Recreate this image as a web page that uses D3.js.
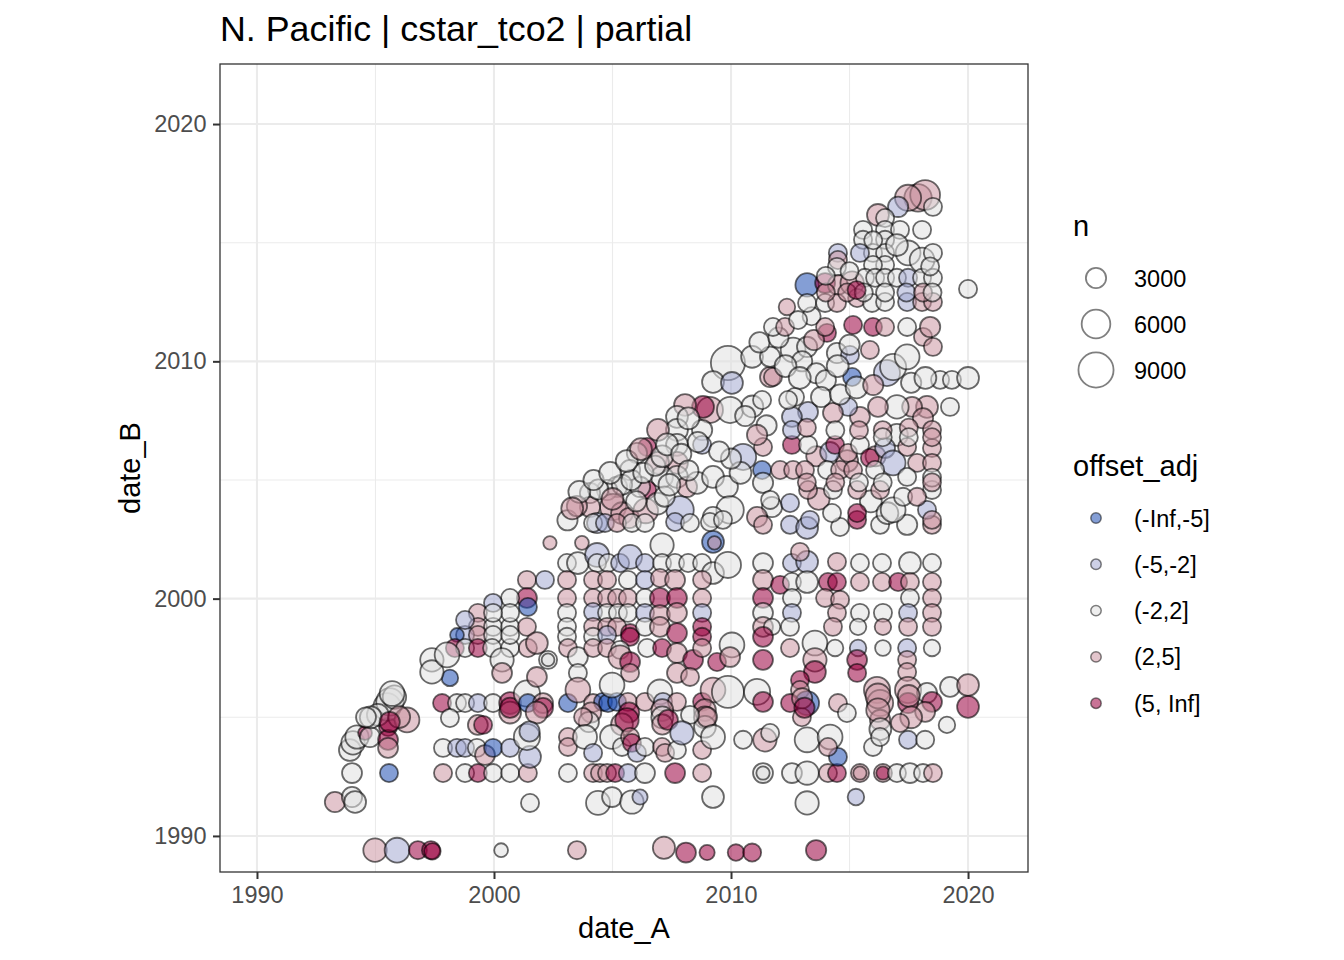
<!DOCTYPE html>
<html>
<head>
<meta charset="utf-8">
<script src="https://cdn.jsdelivr.net/npm/d3@7"></script>
<style>
  body { margin: 0; background: #fff; }
  text { font-family: "Liberation Sans", Arial, sans-serif; }
</style>
</head>
<body>
<div id="chart"></div>
<script>
// offset classes (legend order) and their fills
const offsetClasses = ["(-Inf,-5]", "(-5,-2]", "(-2,2]", "(2,5]", "(5, Inf]"];
const offsetFills = ["#1f4fb3", "#a4aad1", "#e0e0e0", "#cc96a2", "#9b0040"];

const xTicks = [1990, 2000, 2010, 2020];
const yTicks = [1990, 2000, 2010, 2020];
const minorTicks = [1995, 2005, 2015];
const sizeBreaks = [3000, 6000, 9000];

// [date_A, date_B, n, offset class index]
const points = [
  // bottom row
  [1994.98,1989.4,4000,3],[1995.91,1989.4,4500,1],[1996.79,1989.4,2400,4],[1997.34,1989.4,2400,4],[1997.4,1989.35,2000,4],
  [2000.30,1989.4,1400,2],[2003.50,1989.4,2400,3],[2007.17,1989.5,3600,3],[2008.10,1989.3,2900,4],[2008.99,1989.3,1700,4],
  [2010.21,1989.3,2000,4],[2010.89,1989.3,2400,4],[2013.59,1989.4,3000,4],
  // 1991
  [1993.29,1991.43,3000,3],[1994.01,1991.64,3000,2],[1994.14,1991.43,3500,2],[2001.52,1991.39,2400,2],[2004.39,1991.39,4200,2],
  [2004.98,1991.64,2900,2],[2005.82,1991.43,4000,2],[2006.16,1991.64,1700,1],[2009.24,1991.64,3500,2],[2013.21,1991.39,4000,2],
  [2015.27,1991.64,2000,1],
  // 1992.6
  [1994.01,1992.65,2900,2],[1995.57,1992.65,2400,0],[1997.85,1992.65,2400,3],[1998.78,1992.65,2400,2],[1999.32,1992.65,2400,4],
  [1999.96,1992.65,2400,2],[2000.68,1992.65,2400,2],[2001.43,1992.65,2400,3],[2003.12,1992.65,2400,2],[2004.18,1992.65,2400,3],
  [2004.47,1992.65,2400,3],[2004.77,1992.65,2400,3],[2005.11,1992.65,2400,4],[2005.65,1992.65,2400,1],[2006.37,1992.65,2900,2],
  [2007.64,1992.65,2900,4],[2008.78,1992.65,2400,3],[2011.35,1992.65,2900,2],[2011.35,1992.65,1300,2],[2012.57,1992.65,2900,2],
  [2013.21,1992.65,4000,2],[2014.09,1992.65,2400,3],[2014.47,1992.65,2400,4],[2015.44,1992.65,2400,3],[2015.44,1992.65,1300,3],
  [2016.41,1992.65,2400,3],[2016.41,1992.65,1300,4],[2017.0,1992.65,2400,2],[2017.55,1992.65,2900,2],[2018.1,1992.65,2400,2],
  [2018.52,1992.65,2400,3],
  // 1993-1996 left
  [1997.85,1993.71,2400,2],[1998.44,1993.71,2400,1],[1998.78,1993.71,2400,1],[1999.28,1993.71,2400,2],[1999.62,1993.41,2900,3],
  [1999.96,1993.71,2400,0],[2000.68,1993.71,2400,1],[2001.52,1993.33,3500,1],
  [1993.92,1993.62,3500,2],[1994.05,1993.92,4000,2],[1994.22,1994.17,4000,2],[1994.56,1994.34,1400,4],[1994.77,1994.17,3000,2],
  [1995.53,1994.59,2400,4],[1995.53,1994.05,2900,4],[1995.53,1993.71,2900,3],[1995.49,1995.44,5500,2],[1995.61,1995.65,5500,2],
  [1995.8,1995.85,4000,2],[1995.1,1995.1,3500,2],[1994.8,1995.0,3500,2],[1994.6,1995.0,2900,2],[1996.33,1994.89,4500,3],
  [1996.0,1995.01,3500,3],[1995.6,1994.8,3000,4],[1995.7,1996.0,4500,2],
  [1997.81,1995.6,2400,4],[1998.44,1995.6,2400,2],[1998.78,1995.6,2400,2],[1999.32,1995.6,2400,1],[1999.96,1995.6,2400,2],
  [2000.68,1995.6,3500,4],[2000.68,1995.2,3500,3],[2000.68,1995.4,3000,4],[2001.39,1996.0,5000,2],[2001.43,1995.6,2400,0],
  [2002.07,1995.6,2900,3],[2002.07,1995.4,2900,4],[2001.8,1995.2,3500,3],
  [1998.14,1994.97,2400,2],[1999.32,1994.68,2900,3],[1999.54,1994.68,2400,4],[2001.39,1994.17,5000,2],[2001.5,1994.4,3000,1],
  // left diagonal edge
  [2002.36,2002.35,1300,3],[2001.39,2000.79,2400,3],[2002.15,2000.79,2400,1],[2001.39,2000.03,2900,4],[2001.43,1999.65,2400,0],
  [2000.68,2000.03,2400,2],[1999.96,1999.82,2400,1],[1999.32,1999.4,2400,3],[1999.32,1998.81,2400,3],[1999.96,1998.81,2400,2],
  [2000.68,1998.81,2400,2],[2001.39,1998.81,2400,3],[1998.78,1998.47,2400,1],[1998.44,1998.47,1400,0],[1999.32,1998.47,2400,3],
  [1999.96,1998.47,2400,2],[1998.35,1997.92,2400,4],[1998.78,1997.92,2400,2],[1999.32,1997.92,2400,4],[1999.92,1997.92,2400,2],
  [2000.68,1997.92,2400,2],[2001.43,1997.92,2400,3],[2001.81,1998.13,3500,3],[2000.34,1997.42,4000,2],[2000.34,1996.87,2900,3],
  [1998.14,1996.66,2000,0],[1997.38,1997.42,4000,2],[1997.38,1996.91,4000,2],[1998.02,1997.63,4500,2],[2002.28,1997.42,2400,2],
  [2002.28,1997.42,1200,2],[2001.81,1996.7,2900,3],[2000.68,1998.47,2400,2],[2000.68,1999.40,2400,2],[1999.96,1999.40,2400,2],
  [1998.78,1999.1,2400,1],
  // 2003-2012 columns
  [2003.71,2002.35,1400,3],[2009.24,2002.39,3500,0],[2009.3,2002.35,1300,3],
  [2003.08,2001.5,2400,2],[2003.54,2001.5,3500,2],[2004.35,2001.84,4200,1],[2004.35,2001.5,2400,2],[2004.81,2001.5,2400,2],
  [2005.32,2001.5,2400,1],[2005.74,2001.76,4200,1],[2006.37,2001.5,2400,1],[2007.09,2002.26,4000,2],[2007.09,2001.5,2400,2],
  [2007.64,2001.5,2400,2],[2008.19,2001.5,2400,2],[2008.78,2001.5,2400,2],[2009.24,2001.08,3500,2],[2009.87,2001.42,5000,2],
  [2011.35,2001.5,2900,2],
  [2003.08,2000.79,2400,3],[2004.18,2000.79,2400,3],[2004.77,2000.79,2400,3],[2005.65,2000.79,2400,2],[2006.37,2000.79,2400,1],
  [2007.0,2000.87,2400,3],[2007.64,2000.79,2900,3],[2008.78,2000.79,2400,3],[2011.35,2000.79,2900,3],
  [2003.08,2000.03,2400,3],[2004.18,2000.03,2400,3],[2004.77,2000.03,2400,3],[2005.19,2000.03,2400,3],[2005.65,2000.03,2400,3],
  [2006.37,2000.03,2400,2],[2007.0,2000.03,2900,4],[2007.72,2000.03,2900,4],[2008.78,2000.03,2400,3],[2011.35,2000.03,2900,4],
  [2003.08,1999.4,2400,2],[2004.18,1999.44,2400,1],[2004.77,1999.4,2400,2],[2005.23,1999.4,2400,2],[2005.65,1999.4,2400,2],
  [2006.37,1999.4,2400,1],[2007.0,1999.31,2900,3],[2007.72,1999.4,2900,3],[2008.78,1999.4,2400,1],[2011.35,1999.4,2900,2],
  [2003.08,1998.81,2400,2],[2004.18,1998.81,2400,3],[2004.77,1998.81,2400,3],[2005.19,1998.81,2400,3],[2005.74,1998.55,2400,4],
  [2006.37,1998.81,2400,2],[2007.0,1998.81,2900,3],[2007.72,1998.55,2900,4],[2008.78,1998.81,2400,4],[2011.35,1998.81,2900,3],
  [2011.73,1998.81,2000,2],
  [2003.08,1998.39,2400,2],[2004.18,1998.39,2400,2],[2004.77,1998.47,2400,1],[2005.74,1998.39,2400,4],[2008.78,1998.39,2400,4],
  [2011.35,1998.39,2900,4],
  [2003.12,1997.92,2400,3],[2003.54,1997.54,2900,2],[2004.18,1997.92,2400,3],[2004.77,1997.92,2400,3],[2005.32,1997.84,2400,2],
  [2005.32,1997.54,4000,3],[2005.74,1997.33,2900,4],[2006.46,1997.92,2400,2],[2007.09,1997.92,2400,4],[2007.72,1997.71,2900,3],
  [2008.4,1997.42,2900,4],[2008.78,1997.92,2400,3],[2009.41,1997.33,2400,4],[2010.04,1998.05,4500,2],[2009.96,1997.54,2900,3],
  [2011.35,1997.42,2900,4],
  [2003.54,1996.87,2400,2],[2005.74,1996.87,2400,3],[2007.72,1996.87,2900,3],[2008.27,1996.7,2400,3],
  [2003.12,1995.6,2400,0],[2003.54,1996.15,4500,3],[2004.18,1995.6,2400,3],[2004.6,1995.65,2400,0],[2004.81,1995.6,2400,0],
  [2005.19,1995.65,2400,0],[2005.65,1995.65,2400,3],[2004.98,1996.36,4500,2],[2006.37,1995.65,2400,3],[2007.0,1996.07,4500,2],
  [2007.13,1995.65,2400,1],[2007.72,1995.65,2400,3],[2008.78,1995.65,2400,4],[2009.24,1996.15,4500,3],[2009.87,1996.07,7500,2],
  [2011.1,1996.07,5000,2],[2011.35,1995.65,2900,4],
  [2007.1,1995.3,3500,3],[2007.1,1995.0,3500,2],[2007.1,1994.7,3000,3],[2008.9,1995.3,3500,3],[2008.9,1995.0,3500,3],
  [2008.9,1994.6,3500,2],[2005.7,1995.2,3000,4],[2005.4,1994.7,3500,3],[2004.1,1995.2,3000,3],[2004.0,1994.8,3000,2],
  [2003.76,1995.01,2400,3],[2005.61,1994.89,4000,4],[2007.34,1994.89,2900,4],[2008.99,1995.01,2900,3],[2008.27,1995.1,2400,2],
  [2003.12,1994.17,2400,3],[2003.12,1993.75,2400,3],[2003.84,1994.17,4200,2],[2004.18,1993.5,2400,1],[2004.98,1994.17,4200,2],
  [2005.4,1993.75,2400,2],[2005.74,1994.17,2400,3],[2005.82,1993.92,2400,4],[2006.03,1993.5,2400,1],[2006.37,1993.75,2400,2],
  [2007.09,1993.75,2400,3],[2007.22,1993.5,2400,3],[2007.72,1993.62,2400,2],[2007.93,1994.34,4000,1],[2008.78,1993.62,2400,3],
  [2009.24,1994.17,4200,2],[2010.51,1994.05,2400,2],[2011.43,1994.05,4000,3],[2011.65,1994.34,2400,2],
  // 2012-2020 columns, lower half
  [2012.49,2003.11,2400,1],[2013.21,2002.98,3500,1],[2014.6,2003.02,2400,2],[2015.32,2003.32,2400,4],[2016.29,2003.11,2400,2],
  [2017.43,2003.11,3000,2],[2018.48,2003.11,2400,3],
  [2012.57,2001.5,2400,1],[2013.21,2001.55,3500,1],[2012.91,2001.97,2400,3],[2014.47,2001.55,2400,3],[2015.44,2001.5,2400,2],
  [2016.37,2001.5,2400,2],[2017.55,2001.5,3500,2],[2018.48,2001.5,2400,2],
  [2012.07,2000.58,2400,4],[2012.57,2000.70,2400,2],[2013.21,2000.70,3500,2],[2014.09,2000.70,2400,4],[2014.47,2000.70,2400,4],
  [2015.44,2000.70,2400,3],[2016.37,2000.70,2400,3],[2017.05,2000.70,2400,4],[2017.55,2000.70,2400,3],[2018.48,2000.70,2400,3],
  [2012.57,2000.03,2400,2],[2013.97,2000.03,2400,3],[2014.6,1999.95,2400,3],[2017.55,2000.03,2400,2],[2018.48,2000.03,2400,3],
  [2012.57,1999.4,2400,1],[2014.47,1999.4,2400,3],[2015.44,1999.4,2400,2],[2016.41,1999.4,2400,2],[2017.47,1999.4,2400,1],
  [2018.48,1999.4,2400,3],
  [2012.49,1998.81,2400,2],[2014.30,1998.81,2400,3],[2015.36,1998.81,2000,2],[2016.41,1998.81,2000,3],[2017.47,1998.81,2400,3],
  [2018.48,1998.81,2400,3],
  [2012.49,1997.92,2400,3],[2013.54,1998.13,4500,2],[2014.39,1997.92,2000,2],[2015.36,1997.92,2000,1],[2016.41,1997.92,1800,2],
  [2017.43,1997.92,2400,1],[2018.48,1997.92,2000,2],
  [2015.32,1997.42,2900,4],[2015.32,1996.87,2400,4],[2013.54,1997.42,4000,3],[2013.54,1996.91,3500,4],[2017.43,1997.42,2400,3],
  [2017.43,1996.91,2400,3],
  [2012.91,1996.57,2400,4],[2012.91,1996.15,2400,3],[2013.21,1995.6,4200,0],[2012.49,1995.6,2400,4],[2012.99,1995.0,2400,3],
  [2014.51,1995.6,2400,3],[2014.89,1995.18,2400,2],[2016.16,1996.15,5000,3],[2016.29,1995.6,5000,3],[2016.29,1994.89,3000,3],
  [2017.47,1996.15,5000,3],[2017.47,1995.6,3000,4],[2018.27,1996.03,2900,2],[2018.48,1995.65,2900,4],[2018.19,1995.23,2900,3],
  [2019.24,1996.28,2900,2],[2020.0,1996.36,3500,3],[2020.0,1995.44,3500,4],[2019.11,1994.68,2000,2],
  [2016.2,1995.9,4500,3],[2016.2,1995.3,4000,3],[2016.3,1994.5,3500,2],[2017.5,1995.9,3500,3],[2017.6,1995.0,3500,3],
  [2013.0,1995.8,3000,3],[2013.1,1995.4,3000,4],
  [2013.21,1994.05,4500,2],[2014.18,1994.17,4500,2],[2014.51,1993.33,2400,0],[2014.09,1993.75,2400,3],[2015.99,1993.75,2400,2],
  [2016.29,1994.17,2400,2],[2017.47,1994.05,2400,1],[2018.19,1994.05,2400,2],[2017.13,1994.76,2400,3],
  // middle diagonal cluster
  [2009.87,2009.93,8500,2],[2009.24,2009.13,3500,2],[2010.04,2009.09,3500,1],[2010.89,2010.19,3500,2],[2011.65,2009.34,3000,3],
  [2009.11,2007.95,5000,3],[2009.96,2007.95,5000,2],[2008.82,2008.08,3500,4],[2008.06,2008.16,3500,3],[2007.72,2007.66,3500,2],
  [2008.78,2007.11,3000,2],[2008.78,2006.48,2400,1],[2007.72,2007.11,3500,2],[2007.72,2006.48,3500,2],[2007.72,2005.72,3500,3],
  [2006.92,2007.11,3500,3],[2006.46,2006.39,2400,4],[2006.03,2006.14,3000,2],[2005.74,2005.42,3000,2],[2006.92,2005.72,3500,3],
  [2007.09,2005.13,3500,2],[2007.72,2005.13,3500,2],[2008.14,2004.71,3000,3],[2006.46,2004.58,2400,4],[2006.16,2004.71,3000,2],
  [2005.19,2004.71,3000,2],[2004.77,2004.58,3000,2],[2004.05,2004.45,3000,2],[2005.02,2003.86,5000,3],[2004.05,2003.86,3000,3],
  [2004.35,2003.19,3000,1],[2007.85,2003.74,5500,1],[2008.57,2004.88,3500,2],[2009.24,2005.13,3500,2],[2009.83,2004.71,3500,2],
  [2009.96,2003.74,5500,2],[2010.51,2005.97,5000,1],[2011.31,2005.42,2400,0],[2011.35,2006.39,2400,3],[2011.35,2004.88,3000,2],
  [2011.73,2003.86,3000,2],[2011.1,2003.44,3000,3],[2009.24,2003.44,3000,2],
  [2003.1,2003.3,3000,2],[2003.5,2003.9,3000,3],[2004.4,2004.6,3000,2],[2005.4,2004.8,3000,2],[2005.8,2005.0,3000,2],
  [2006.3,2005.3,3000,2],[2006.8,2005.6,3000,2],[2005.4,2003.6,3500,3],[2005.7,2003.4,3000,3],[2006.4,2003.7,4500,3],
  [2006.9,2004.0,3500,2],[2007.2,2004.3,3000,2],[2007.1,2006.0,3500,2],[2007.3,2006.5,3500,2],[2007.9,2006.1,3000,2],
  [2008.2,2005.4,3000,2],[2008.6,2006.6,3000,2],[2008.2,2007.6,3500,2],[2007.4,2004.8,3500,2],
  [2003.6,2004.5,3500,2],[2004.2,2005.0,3000,2],[2004.9,2005.3,3500,2],[2005.6,2005.8,3500,2],[2006.2,2006.3,3500,3],
  [2005.0,2004.2,3500,3],[2006.0,2004.1,3000,2],[2003.3,2003.8,3500,3],
  [2004.18,2003.19,2400,2],[2004.68,2003.19,2400,1],[2005.19,2003.19,2400,3],[2005.82,2003.19,2400,2],[2006.37,2003.19,2400,2],
  [2007.64,2003.23,2400,1],[2008.27,2003.19,2400,2],[2009.11,2003.23,2400,2],[2009.66,2003.32,2400,2],[2011.35,2003.11,2400,3],
  [2010.9,2008.1,3500,2],[2011.5,2007.3,3000,2],[2010.6,2007.7,3000,2],[2011.1,2006.9,3000,3],[2010.4,2005.3,3500,2],
  [2010.0,2005.9,3000,2],[2009.5,2006.2,3000,2],
  // upper right block
  [2011.65,2010.19,3000,2],[2012.62,2010.48,4500,2],[2013.21,2010.61,3000,2],[2014.05,2011.2,2400,4],[2015.11,2009.34,2400,0],
  [2014.47,2010.35,3000,2],[2015.02,2010.27,2400,1],[2015.86,2010.48,2400,3],[2016.58,2009.51,5000,1],[2016.84,2009.76,5000,2],
  [2017.43,2010.19,4500,2],[2018.10,2011.03,2400,3],[2018.52,2010.61,2400,3],[2018.82,2009.22,2400,2],[2019.32,2009.22,2400,2],
  [2020.0,2009.30,3500,2],[2019.24,2008.08,2400,2],[2018.27,2008.08,3500,3],[2017.64,2008.08,2900,3],[2017.0,2008.08,4000,2],
  [2016.2,2008.08,2900,3],[2015.44,2007.66,2900,3],[2014.94,2008.08,2400,1],[2014.3,2007.83,2900,3],[2013.25,2007.87,2900,1],
  [2012.57,2007.66,2900,1],[2012.70,2008.50,2400,2],[2012.41,2008.37,2400,2],[2011.77,2009.34,2400,3],[2011.31,2008.37,2400,2],
  [2013.0,2010.0,3000,2],[2013.6,2009.5,3000,2],[2014.0,2009.2,3000,2],[2014.5,2009.8,3500,2],[2015.0,2010.7,3000,2],
  [2012.3,2009.8,3500,2],[2013.5,2010.9,3000,3],
  [2011.2,2010.8,3000,2],[2012.0,2011.0,3000,2],[2012.9,2009.3,3500,2],[2013.4,2011.9,2400,2],
  [2013.8,2008.5,3000,2],[2014.6,2008.6,3000,2],[2015.3,2008.9,3500,2],[2016.0,2009.0,3000,3],[2017.6,2009.1,3000,2],
  [2018.2,2009.3,3500,2],[2013.6,2006.0,3000,3],[2014.9,2005.8,3500,3],[2016.1,2006.0,3000,3],[2017.0,2006.9,3500,2],
  [2018.1,2007.6,3000,3],[2013.7,2004.2,3500,3],[2015.9,2004.1,3500,2],[2016.6,2003.6,3500,2],
  [2012.57,2006.48,2400,4],[2012.57,2007.11,2400,1],[2013.25,2006.48,2400,2],[2014.18,2006.18,2900,1],[2014.39,2006.48,2400,4],
  [2014.94,2006.14,2400,3],[2015.44,2006.48,2400,2],[2015.86,2005.93,2400,4],[2016.5,2006.35,2900,1],[2016.84,2005.72,4500,1],
  [2017.43,2006.39,2400,3],[2017.85,2005.72,2400,3],[2018.48,2006.35,2400,3],[2018.48,2005.72,2400,3],
  [2012.07,2005.42,2400,3],[2012.62,2005.42,2400,3],[2013.12,2005.42,2400,3],[2014.05,2005.42,2400,2],[2014.6,2005.42,2400,3],
  [2015.15,2005.42,2400,3],[2016.08,2005.42,2400,2],[2017.43,2005.13,2400,2],
  [2011.65,2004.16,2400,2],[2012.49,2004.03,2400,1],[2013.25,2004.58,2400,3],[2014.30,2004.58,2400,2],[2015.32,2004.58,2400,3],
  [2015.32,2003.61,2400,4],[2014.26,2003.61,2400,2],[2013.33,2003.32,2400,1],[2016.29,2004.58,2400,3],[2016.84,2003.74,4500,2],
  [2018.27,2003.74,2400,1],[2018.48,2004.58,2400,2],[2018.48,2003.32,2400,3],[2017.26,2004.29,2400,2],[2017.85,2004.29,2400,3],
  [2018.48,2007.11,2400,3],[2018.48,2006.8,2400,3],[2018.48,2005.1,2400,2],[2018.48,2004.9,2400,3],[2017.5,2007.2,2400,3],
  [2017.5,2006.8,2400,2],[2016.4,2007.1,2400,3],[2016.4,2006.8,2400,2],[2015.4,2007.1,2400,3],[2014.4,2007.1,2400,2],
  [2013.2,2007.2,2400,3],[2016.4,2004.9,2400,2],[2015.4,2004.9,2400,2],[2014.4,2004.9,2400,3],[2013.2,2004.9,2400,3],
  // top of triangle
  [2017.89,2016.89,5500,3],[2018.19,2017.01,6500,3],[2017.47,2016.89,5000,3],[2017.05,2016.51,3000,1],[2018.52,2016.51,2400,2],
  [2016.2,2016.17,3500,3],[2016.5,2016.04,2400,2],[2016.5,2015.54,2400,2],[2017.13,2015.54,2400,2],[2018.06,2015.54,2400,2],
  [2015.57,2015.54,2400,2],[2015.57,2015.12,2400,2],[2016.5,2015.12,2400,2],[2017.47,2014.57,4500,2],[2018.06,2014.27,4500,2],
  [2018.52,2014.57,2400,2],[2015.99,2014.57,2400,2],[2015.44,2014.57,2400,1],[2014.51,2014.57,2400,1],[2016.5,2014.57,2400,2],
  [2014.51,2014.27,2400,3],[2014.47,2013.98,2400,2],[2016.5,2014.06,2400,2],[2015.99,2014.06,2400,2],[2013.21,2013.22,4000,0],
  [2013.97,2013.30,2900,4],[2014.51,2013.22,2900,3],[2015.11,2013.30,4000,3],[2015.65,2013.52,2400,2],[2016.08,2013.52,2400,2],
  [2016.5,2013.52,2400,2],[2017.0,2013.52,2400,2],[2017.47,2013.52,2400,1],[2018.06,2013.52,2400,2],[2018.52,2013.52,2400,2],
  [2020.0,2013.05,2400,2],[2012.36,2012.29,2000,3],[2013.21,2012.46,2400,2],[2013.97,2012.46,2400,2],[2014.47,2012.46,2400,3],
  [2015.32,2012.67,2400,3],[2015.95,2012.46,2400,2],[2016.5,2012.50,2400,2],[2017.43,2012.50,2400,1],[2018.06,2012.50,2400,3],
  [2018.52,2012.50,2400,3],[2011.77,2011.45,2400,2],[2012.28,2011.45,2400,3],[2012.83,2011.74,2400,2],[2013.97,2011.45,2400,3],
  [2015.15,2011.53,2400,4],[2015.99,2011.45,2400,4],[2016.5,2011.45,2400,3],[2017.43,2011.45,2400,2],[2018.40,2011.45,3000,3],
  [2014.0,2012.9,2400,3],[2014.9,2012.9,2400,3],[2015.6,2012.9,2400,2],[2016.5,2012.9,2400,2],[2017.4,2012.9,2400,1],
  [2018.1,2012.9,2400,3],[2018.5,2012.9,2400,2],[2015.3,2013.0,2400,4],[2014.0,2013.6,2400,2],[2015.0,2013.8,2400,2],
  [2016.0,2015.1,2400,2],[2017.0,2014.9,3500,2],[2018.4,2014.0,2400,2]
];

const W = 1344, H = 960;
const panel = { left: 220, right: 1028, top: 64, bottom: 872 };

const x = d3.scaleLinear().domain([1988.44, 2022.53]).range([panel.left, panel.right]);
const y = d3.scaleLinear().domain([1988.48, 2022.53]).range([panel.bottom, panel.top]);
const r = d3.scaleSqrt().domain([0, 10000]).range([0, 18.5]);
const fill = d3.scaleOrdinal().domain(d3.range(offsetClasses.length)).range(offsetFills);

const svg = d3.select("#chart").append("svg")
  .attr("width", W).attr("height", H);

// panel grid
const grid = svg.append("g");
grid.selectAll(".minx").data(minorTicks).join("line")
  .attr("x1", d => x(d)).attr("x2", d => x(d))
  .attr("y1", panel.top).attr("y2", panel.bottom)
  .attr("stroke", "#ebebeb").attr("stroke-width", 1.1);
grid.selectAll(".miny").data(minorTicks).join("line")
  .attr("y1", d => y(d)).attr("y2", d => y(d))
  .attr("x1", panel.left).attr("x2", panel.right)
  .attr("stroke", "#ebebeb").attr("stroke-width", 1.1);
grid.selectAll(".majx").data(xTicks).join("line")
  .attr("x1", d => x(d)).attr("x2", d => x(d))
  .attr("y1", panel.top).attr("y2", panel.bottom)
  .attr("stroke", "#ebebeb").attr("stroke-width", 2.1);
grid.selectAll(".majy").data(yTicks).join("line")
  .attr("y1", d => y(d)).attr("y2", d => y(d))
  .attr("x1", panel.left).attr("x2", panel.right)
  .attr("stroke", "#ebebeb").attr("stroke-width", 2.1);

svg.append("clipPath").attr("id", "clip").append("rect")
  .attr("x", panel.left).attr("y", panel.top)
  .attr("width", panel.right - panel.left).attr("height", panel.bottom - panel.top);

// points
svg.append("g")
  .attr("clip-path", "url(#clip)")
  .selectAll("circle").data(points).join("circle")
  .attr("cx", d => x(d[0]))
  .attr("cy", d => y(d[1]))
  .attr("r", d => r(d[2]))
  .attr("fill", d => fill(d[3]))
  .attr("fill-opacity", 0.55)
  .attr("stroke", "#000")
  .attr("stroke-opacity", 0.58)
  .attr("stroke-width", 1.8);

// panel border
svg.append("rect")
  .attr("x", panel.left).attr("y", panel.top)
  .attr("width", panel.right - panel.left).attr("height", panel.bottom - panel.top)
  .attr("fill", "none").attr("stroke", "#333").attr("stroke-width", 1.3);

// axes
const xAxis = svg.append("g")
  .attr("transform", `translate(0,${panel.bottom})`)
  .call(d3.axisBottom(x).tickValues(xTicks).tickFormat(d3.format("d")).tickSize(7).tickPadding(7));
const yAxis = svg.append("g")
  .attr("transform", `translate(${panel.left},0)`)
  .call(d3.axisLeft(y).tickValues(yTicks).tickFormat(d3.format("d")).tickSize(7).tickPadding(6.5));
[xAxis, yAxis].forEach(a => {
  a.select(".domain").remove();
  a.selectAll(".tick line").attr("stroke", "#333").attr("stroke-width", 2);
  a.selectAll(".tick text")
    .attr("fill", "#4d4d4d")
    .style("font-size", "23.5px")
    .style("font-family", '"Liberation Sans", Arial, sans-serif');
});

// titles
svg.append("text")
  .attr("x", panel.left).attr("y", 41)
  .style("font-size", "35.8px").attr("fill", "#000")
  .text("N. Pacific | cstar_tco2 | partial");
svg.append("text")
  .attr("x", (panel.left + panel.right) / 2).attr("y", 938)
  .attr("text-anchor", "middle")
  .style("font-size", "29px")
  .text("date_A");
svg.append("text")
  .attr("transform", `translate(140,${(panel.top + panel.bottom) / 2}) rotate(-90)`)
  .attr("text-anchor", "middle")
  .style("font-size", "29px")
  .text("date_B");

// size legend
const legN = svg.append("g");
legN.append("text").attr("x", 1073).attr("y", 236)
  .style("font-size", "29px").text("n");
sizeBreaks.forEach((b, i) => {
  const cy = 278 + i * 46;
  legN.append("circle")
    .attr("cx", 1096).attr("cy", cy).attr("r", r(b))
    .attr("fill", "none").attr("stroke", "#000")
    .attr("stroke-opacity", 0.5).attr("stroke-width", 1.8);
  legN.append("text").attr("x", 1134).attr("y", cy + 8.5)
    .style("font-size", "23.5px").text(b);
});

// fill legend
const legF = svg.append("g");
legF.append("text").attr("x", 1073).attr("y", 476)
  .style("font-size", "29px").text("offset_adj");
offsetClasses.forEach((c, i) => {
  const cy = 518 + i * 46.3;
  legF.append("circle")
    .attr("cx", 1096).attr("cy", cy).attr("r", 5.2)
    .attr("fill", fill(i)).attr("fill-opacity", 0.55)
    .attr("stroke", "#000").attr("stroke-opacity", 0.5).attr("stroke-width", 1.5);
  legF.append("text").attr("x", 1134).attr("y", cy + 8.5)
    .style("font-size", "23.5px").text(c);
});
</script>
</body>
</html>
